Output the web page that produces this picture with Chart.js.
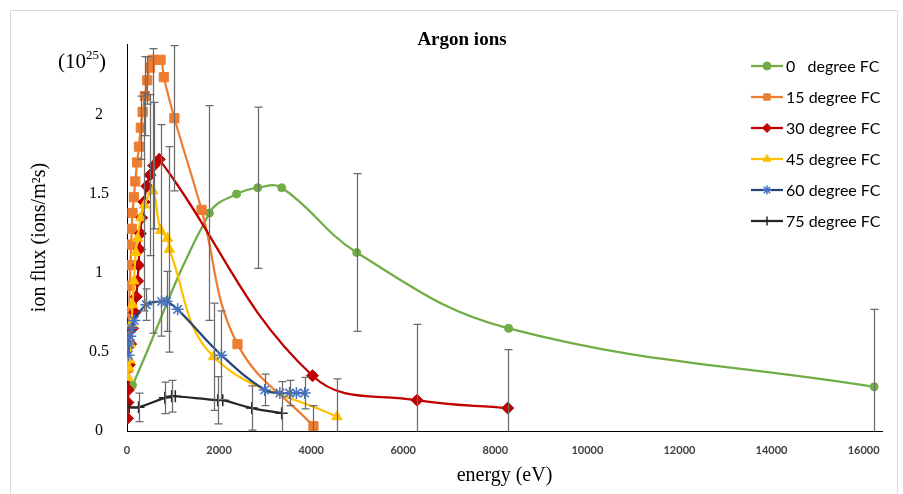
<!DOCTYPE html>
<html>
<head>
<meta charset="utf-8">
<script src="https://cdn.jsdelivr.net/npm/chart.js@4.4.1/dist/chart.umd.min.js"></script>
<style>
  html, body { margin: 0; padding: 0; background: #fff; }
  #c { display: block; }
</style>
</head>
<body>
<canvas id="c" width="903" height="494"></canvas>
<script>
// ---------------- data ----------------
const chartTitle = 'Argon ions';
const xTitle = 'energy (eV)';
const yTitle = 'ion flux (ions/m²s)';
const xTickValues = [0, 2000, 4000, 6000, 8000, 10000, 12000, 14000, 16000];
const yTickValues = [0, 0.5, 1, 1.5, 2];
const seriesLabels = ['0   degree FC', '15 degree FC', '30 degree FC', '45 degree FC', '60 degree FC', '75 degree FC'];

// 0 degree FC
const energy0 = [120, 1790, 2380, 2840, 3360, 4990, 8290, 16230];
const flux0   = [0.29, 1.38, 1.50, 1.54, 1.54, 1.13, 0.65, 0.28];
const err0    = [0, 0.68, 0, 0.51, 0, 0.50, 0, 0.49];

// 15 degree FC
const energy15 = [20, 30, 45, 60, 75, 90, 105, 120, 150, 180, 220, 260, 300, 340, 390, 440, 500, 560, 730, 800, 1030, 1620, 2400, 4050];
const flux15   = [0.40, 0.55, 0.75, 0.92, 1.05, 1.18, 1.28, 1.38, 1.48, 1.58, 1.70, 1.80, 1.92, 2.02, 2.12, 2.22, 2.30, 2.35, 2.35, 2.24, 1.98, 1.40, 0.55, 0.03];
const err15    = [0, 0, 0, 0, 0, 0, 0, 0, 0, 0, 0, 0, 0.20, 0, 0.25, 0.15, 0, 0, 0, 0, 0.46, 0, 0, 0.13];

// 30 degree FC
const energy30 = [10, 20, 30, 50, 80, 120, 170, 200, 230, 250, 270, 290, 320, 370, 430, 500, 580, 700, 4030, 6300, 8270];
const flux30   = [0.08, 0.18, 0.26, 0.42, 0.55, 0.65, 0.75, 0.85, 0.95, 1.05, 1.15, 1.25, 1.35, 1.45, 1.55, 1.62, 1.68, 1.72, 0.35, 0.195, 0.145];
const err30    = [0, 0, 0, 0, 0, 0, 0, 0, 0, 0, 0, 0, 0, 0.69, 0, 0.51, 0.40, 0, 0, 0.48, 0.37];

// 45 degree FC
const energy45 = [20, 40, 60, 80, 100, 120, 150, 190, 230, 300, 380, 560, 730, 880, 920, 1880, 4560];
const flux45   = [0.34, 0.40, 0.45, 0.55, 0.68, 0.80, 0.95, 1.13, 1.22, 1.35, 1.43, 1.52, 1.27, 1.22, 1.15, 0.47, 0.09];
const err45    = [0, 0, 0, 0, 0, 0, 0, 0, 0, 0, 0, 0.90, 0.67, 0, 0.65, 0.34, 0.24];

// 60 degree FC
const energy60 = [30, 50, 70, 100, 160, 420, 750, 860, 1100, 2050, 2990, 3320, 3530, 3680, 3860];
const flux60   = [0.48, 0.55, 0.60, 0.65, 0.70, 0.80, 0.82, 0.82, 0.77, 0.48, 0.26, 0.24, 0.24, 0.24, 0.24];
const err60    = [0, 0, 0, 0, 0, 0.10, 0, 0.19, 0, 0.28, 0.10, 0, 0.08, 0, 0.10];

// 75 degree FC
const energy75 = [50, 250, 820, 970, 1050, 1970, 2080, 2710, 3360];
const flux75   = [0.15, 0.15, 0.21, 0.22, 0.22, 0.195, 0.195, 0.145, 0.113];
const err75    = [0, 0.09, 0.10, 0.10, 0, 0.15, 0, 0.14, 0.20];

const seriesEnergy = [energy0, energy15, energy30, energy45, energy60, energy75];
const seriesFlux   = [flux0, flux15, flux30, flux45, flux60, flux75];
const seriesErr    = [err0, err15, err30, err45, err60, err75];

// ---------------- styles ----------------
const lineColors   = ['#70AD47', '#ED7D31', '#C00000', '#FFC000', '#264478', '#262626'];
const markerColors = ['#70AD47', '#ED7D31', '#C00000', '#FFC000', '#4472C4', '#262626'];
const markerStyles = ['circle', 'rect', 'rectRot', 'triangle', 'star', 'cross'];
const markerRadius = [4, 6.5, 6, 6, 6, 6];

const datasets = seriesLabels.map((lab, i) => ({
  label: lab,
  data: seriesEnergy[i].map((e, j) => ({ x: e, y: seriesFlux[i][j] })),
  borderColor: lineColors[i],
  backgroundColor: markerColors[i],
  borderWidth: 2.25,
  pointStyle: markerStyles[i],
  pointRadius: markerRadius[i],
  pointBackgroundColor: markerColors[i],
  pointBorderColor: markerColors[i],
  pointBorderWidth: (markerStyles[i] === 'star' || markerStyles[i] === 'cross') ? 1.5 : 1,
  tension: 0.4,
  fill: false,
  order: 6 - i
}));

const bgPlugin = {
  id: 'bg',
  beforeDraw(chart) {
    const ctx = chart.ctx;
    ctx.save();
    ctx.fillStyle = '#fff';
    ctx.fillRect(0, 0, chart.width, chart.height);
    ctx.strokeStyle = '#d9d9d9';
    ctx.lineWidth = 1;
    ctx.strokeRect(10.5, 10.5, chart.width - 16, chart.height + 5);
    ctx.restore();
  }
};

const errPlugin = {
  id: 'errbars',
  afterDatasetsDraw(chart) {
    const ctx = chart.ctx, xs = chart.scales.x, ys = chart.scales.y, a = chart.chartArea;
    ctx.save();
    ctx.beginPath();
    ctx.rect(a.left, a.top - 6, a.right - a.left, a.bottom - a.top + 6);
    ctx.clip();
    ctx.strokeStyle = '#6b6b6b';
    ctx.lineWidth = 1.25;
    seriesErr.forEach((errs, i) => {
      errs.forEach((e, j) => {
        if (!e) return;
        const v = seriesFlux[i][j];
        const px = Math.round(xs.getPixelForValue(seriesEnergy[i][j])) + 0.5;
        const yt = ys.getPixelForValue(v + e);
        const lowVal = v - e;
        const yb = ys.getPixelForValue(Math.max(0, lowVal));
        ctx.beginPath();
        ctx.moveTo(px, yt); ctx.lineTo(px, yb);
        ctx.moveTo(px - 4, yt); ctx.lineTo(px + 4, yt);
        if (lowVal > 0) { ctx.moveTo(px - 4, yb); ctx.lineTo(px + 4, yb); }
        ctx.stroke();
      });
    });
    ctx.restore();
  }
};

const textPlugin = {
  id: 'texts',
  afterDraw(chart) {
    const ctx = chart.ctx;
    ctx.save();
    // title
    ctx.fillStyle = '#000';
    ctx.font = 'bold 19px "Liberation Serif"';
    ctx.textAlign = 'center';
    ctx.textBaseline = 'middle';
    ctx.fillText(chartTitle, 462, 40);
    // (10^25) unit marker
    ctx.textAlign = 'left';
    ctx.textBaseline = 'alphabetic';
    ctx.font = '21px "Liberation Serif"';
    let x = 58;
    const base = 68;
    ctx.fillText('(10', x, base);
    x += ctx.measureText('(10').width;
    ctx.font = '13px "Liberation Serif"';
    ctx.fillText('25', x, base - 9);
    x += ctx.measureText('25').width;
    ctx.font = '21px "Liberation Serif"';
    ctx.fillText(')', x, base);
    // legend
    ctx.font = '16px Lato';
    ctx.textBaseline = 'middle';
    chart.data.datasets.forEach((ds, i) => {
      const y = 66 + i * 31;
      ctx.strokeStyle = ds.borderColor;
      ctx.lineWidth = 2.25;
      ctx.beginPath();
      ctx.moveTo(751, y); ctx.lineTo(783, y);
      ctx.stroke();
      ctx.fillStyle = ds.pointBackgroundColor;
      ctx.strokeStyle = ds.pointBorderColor;
      ctx.lineWidth = ds.pointBorderWidth;
      Chart.helpers.drawPoint(ctx, {
        pointStyle: ds.pointStyle,
        radius: Math.min(ds.pointRadius, 4.5),
        borderWidth: ds.pointBorderWidth
      }, 767, y);
      ctx.fillStyle = '#000';
      ctx.fillText(ds.label, 786, y + 1);
    });
    ctx.restore();
  }
};

new Chart(document.getElementById('c'), {
  type: 'line',
  data: { datasets },
  plugins: [bgPlugin, errPlugin, textPlugin],
  options: {
    responsive: false,
    animation: false,
    devicePixelRatio: 1,
    layout: { padding: { left: 20, right: 21, top: 44, bottom: 0 } },
    plugins: { legend: { display: false }, tooltip: { enabled: false }, title: { display: false } },
    scales: {
      x: {
        type: 'linear',
        min: 0,
        max: 16400,
        afterBuildTicks: s => { s.ticks = xTickValues.map(v => ({ value: v })); },
        afterFit: s => { s.height = 63; },
        grid: { display: false, drawTicks: false },
        border: { display: true, color: '#000', width: 1 },
        ticks: {
          padding: 13,
          color: '#404040',
          font: { family: 'Lato', size: 11, weight: 'bold' },
          maxRotation: 0,
          autoSkip: false,
          callback: v => String(v)
        },
        title: {
          display: true,
          text: xTitle,
          color: '#000',
          font: { family: 'Liberation Serif', size: 20 },
          padding: { top: 0, bottom: 6 }
        }
      },
      y: {
        type: 'linear',
        min: 0,
        max: 2.45,
        afterBuildTicks: s => { s.ticks = yTickValues.map(v => ({ value: v })); },
        afterFit: s => { s.width = 107; },
        grid: { display: false, drawTicks: false },
        border: { display: true, color: '#000', width: 1 },
        ticks: {
          padding: 18,
          crossAlign: 'center',
          color: '#000',
          font: { family: 'Liberation Serif', size: 16 },
          autoSkip: false,
          callback: v => String(v)
        },
        title: {
          display: true,
          text: yTitle,
          color: '#000',
          font: { family: 'Liberation Serif', size: 20 },
          padding: { top: 8, bottom: 0 }
        }
      }
    }
  }
});
</script>
</body>
</html>
